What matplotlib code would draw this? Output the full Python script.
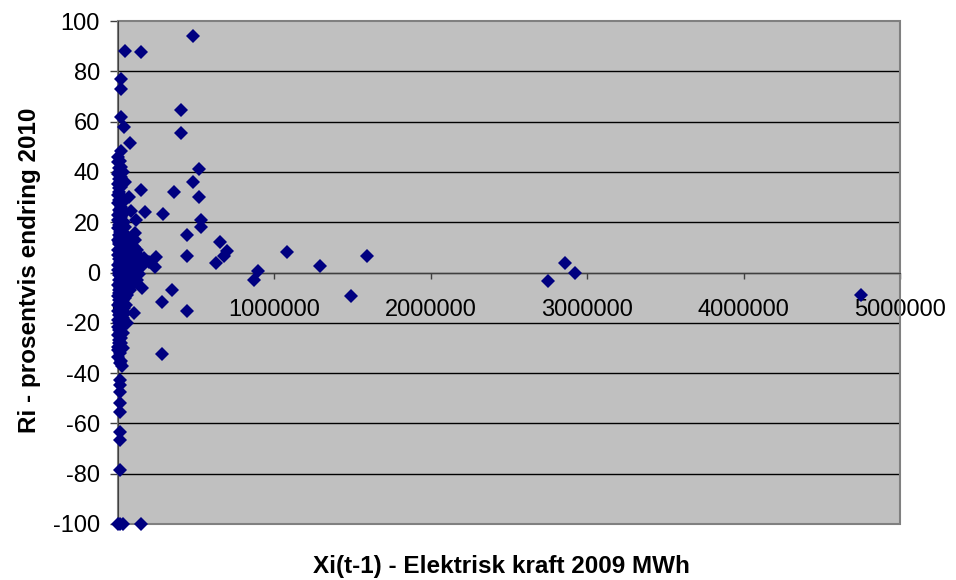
import matplotlib
matplotlib.use("Agg")
import matplotlib.pyplot as plt
from matplotlib.patches import Rectangle

plt.rcParams['font.family'] = ['Liberation Sans', 'DejaVu Sans']

# spredte punkter (store kommuner / uteliggere)
x_spredt = [480000, 45000, 150000, 17000, 17000, 400000, 17000, 40000, 400000, 76000,
            17000, 520000, 480000, 150000, 360000, 72000, 520000, 285000, 528000, 530000,
            80000, 175000, 115000, 110000, 440000, 650000, 108000, 700000, 1080000, 1590000,
            440000, 680000, 245000, 625000, 1290000, 235000, 895000, 870000, 1490000, 2860000,
            2920000, 2750000, 4750000, 151000, 347000, 283000, 443000, 104000, 283000, 25000,
            150000, 2000, 14000, 30000, 10000, 14000, 10000, 14000, 10000, 10000, 12000, 12000]
r_spredt = [94, 88, 87.5, 77, 73, 64.6, 62, 57.7, 55.6, 51.6,
            48.4, 41.3, 36, 33, 32, 30, 30, 23.3, 21, 18,
            24.5, 24, 21, 15.8, 15, 12.3, 13, 8.7, 8.3, 6.6,
            6.6, 6.6, 6.3, 3.7, 2.7, 2.3, 0.7, -3, -9.2, 3.7,
            0, -3.3, -8.9, -6, -7, -11.6, -15.2, -16, -32.5, -37,
            -100, -100, -100, -100, -42.7, -44.7, -47.4, -51.8, -55.3, -63.3, -66.6, -78.5]

# tett klynge ved x ~ 0
x_klynge = [3000, 1000, 4000, 2000, 5000, 1500, 3500, 500, 6000, 2500,
            4500, 1000, 3000, 5500, 2000, 4000, 1500, 6500, 3000, 500,
            5000, 2500, 1000, 4000, 6000, 2000, 3500, 1500, 5000, 500,
            3000, 4500, 2000, 1000, 5500, 2500, 4000, 1500, 3000, 2000,
            10000, 9000, 11000, 8000, 12000, 10000, 9500, 11500, 8500, 10500,
            12000, 9000, 11000, 8000, 10000, 12500, 9500, 11000, 8500, 10000, 11500,
            18000, 21000, 16000, 19000, 22000, 17000, 20000, 15000, 23000, 18000,
            21000, 16000, 19000, 24000, 17000, 20000, 15000, 22000, 18000, 21000,
            16000, 19000, 20000, 17000, 22000, 18000,
            35000, 32000, 38000, 34000, 36000, 31000, 39000, 33000, 37000, 35000,
            32000, 38000, 34000, 36000, 31000, 39000, 33000, 37000, 35000, 32000,
            46000, 44000, 47000, 45000, 43000, 48000, 46000, 44000, 45000, 47000, 43000,
            55000, 52000, 58000, 54000, 56000, 51000, 59000, 53000, 57000, 55000, 52000, 58000,
            66000, 70000, 68000, 72000, 65000, 69000,
            80000, 77000, 83000, 79000, 81000, 76000, 84000, 78000,
            92000, 95000, 90000, 94000, 93000,
            105000, 102000, 108000, 100000, 106000,
            120000, 118000, 123000, 121000,
            130000, 127000, 133000,
            165000, 150000, 200000]
r_klynge = [46, 44, 41.5, 39, 37, 35, 33.5, 31, 29, 27.5,
            25, 23, 21, 19, 17.5, 15, 13, 11.5, 9, 7,
            5.5, 3, 1, -1, -3, -5, -7, -9.5, -11, -13,
            -15.5, -17, -19, -21.5, -23, -25, -27, -29.5, -31, -33.5,
            44.5, 40, 36, 32, 28, 24, 20, 16, 12, 8,
            4, 0, -4, -8, -12, -16, -20, -24, -28, -32, -36,
            42, 38, 34, 30.5, 26, 22, 18.5, 14, 10, 8,
            6, 4, 2, 0, -2, -4, -6, -8, -10.5, -12,
            -14, -18, -22, -26, -28, -35,
            40, 28, 20, 16, 12, 9, 7, 5, 3, 1,
            -1, -3, -5, -8, -11, -14, -18, -21, -24, -30,
            36, 24, 18, 13, 10, 6, 2, -2, -6, -10, -16,
            14, 10, 7.5, 5, 3.5, 1.5, -0.5, -2.5, -5, -9, -13, -20,
            12.5, 9.5, 6, 2, -3, -6,
            11, 8, 5, 3, 0.5, -1.5, -4, -7,
            9, 6, 3.5, 0, -4.5,
            10, 6.5, 4, 1.5, -2,
            9, 5.5, 2, -3,
            7, 3.5, -0.5,
            5.6, 2.3, 4]

x_ticks = [0, 1000000, 2000000, 3000000, 4000000, 5000000]
y_ticks = [-100, -80, -60, -40, -20, 0, 20, 40, 60, 80, 100]

fig = plt.figure(figsize=(9.56, 5.8), dpi=100)
ax = fig.add_axes([118 / 956, 1 - 524 / 580, (900 - 118) / 956, (524 - 21) / 580])
ax.set_facecolor('#C0C0C0')

ax.set_xlim(0, 5000000)
ax.set_ylim(-100, 100)
ax.set_yticks(y_ticks)
ax.set_xticks(x_ticks)
ax.set_xticklabels([str(v) for v in x_ticks])
ax.set_yticklabels([str(v) for v in y_ticks])

for y in y_ticks[1:-1]:
    ax.axhline(y, color='black', lw=1.0, zorder=1)

# Excel-stil: x-aksen krysser ved 0
for s in ['top', 'right']:
    ax.spines[s].set_visible(False)
ax.spines['bottom'].set_position(('data', 0))
ax.spines['bottom'].set_color('#404040')
ax.spines['left'].set_color('#404040')
ax.add_patch(Rectangle((0, 0), 1, 1, transform=ax.transAxes, fill=False,
                       edgecolor='#808080', lw=1.5, zorder=2, clip_on=False))

ax.tick_params(axis='x', direction='out', length=4, width=1, pad=15,
               labelsize=17, colors='#404040', labelcolor='black')
ax.tick_params(axis='y', direction='out', length=6, width=1, pad=7,
               labelsize=17, colors='#404040', labelcolor='black')

ax.plot(x_klynge + x_spredt, r_klynge + r_spredt, linestyle='none', marker='D',
        markersize=6.9, color='#000080', markeredgewidth=0, clip_on=False, zorder=5)

fig.text(0.525, 0.004, 'Xi(t-1) - Elektrisk kraft 2009 MWh', ha='center', va='bottom',
         fontsize=17.5, fontweight='bold')
fig.text(0.031, 0.534, 'Ri - prosentvis endring 2010', ha='center', va='center',
         rotation=90, fontsize=17.5, fontweight='bold')

fig.savefig('out.png', dpi=100)
